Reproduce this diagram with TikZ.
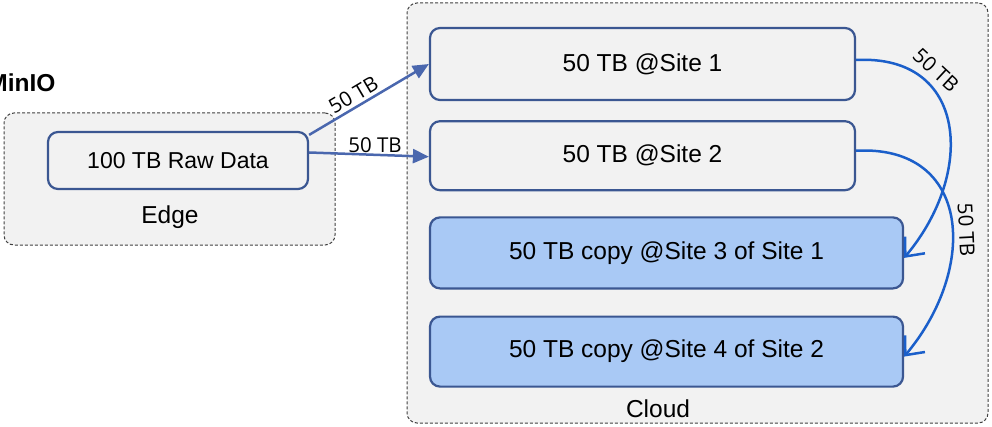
\documentclass[tikz,border=0pt]{standalone}
\usepackage{fontspec}
\setmainfont{Liberation Sans}
\newfontfamily\tbfont{Open Sans}
\usetikzlibrary{arrows.meta, positioning, shapes}
\definecolor{boxline}{HTML}{3B5792}
\definecolor{boxgray}{HTML}{F2F2F2}
\definecolor{copyblue}{HTML}{A9C9F5}
\definecolor{sendblue}{HTML}{4A67AE}
\definecolor{copyline}{HTML}{1B5FCA}
\tikzset{
      zone/.style={
        draw=black!75,
        fill=boxgray,
        line width=1pt,
        dash pattern=on 3pt off 2pt,
        rounded corners=10pt,
      },
      data box/.style={
        draw=boxline,
        fill=#1,
        line width=2.2pt,
        rounded corners=10pt,
        font=\fontsize{24.5}{28}\selectfont,
      },
      data box/.default=boxgray,
      send/.style={draw=sendblue, line width=2.5pt, -{Triangle[length=16pt,width=14pt]}}, % edge to cloud
      copy/.style={draw=copyline, line width=2.5pt, -{Straight Barb[length=15pt,width=26pt]}}, % site to site
      tb label/.style={font=\tbfont\fontsize{20.5}{24}\selectfont, text=black, inner sep=3pt},
      zone name/.style={font=\fontsize{24.5}{28}\selectfont, anchor=base},
}
\begin{document}
\begin{tikzpicture}[x=1pt, y=1pt]
    \useasboundingbox (0,0) rectangle (992,426);
    % zones
    \node [zone, minimum width=331pt, minimum height=132pt] (edge) at (169.5,247) {};
    \node [zone, minimum width=581pt, minimum height=420pt] (cloud) at (697.5,213) {};
    \node [zone name] (edgename) at (170,202) {Edge};
    \node [zone name] (cloudname) at (658,9) {Cloud};
    \node [font=\bfseries\fontsize{24.5}{28}\selectfont, anchor=base east] (minio) at (59,334) {MinIO};
    % data
    \node [data box, minimum width=260pt, minimum height=57pt, font=\fontsize{23}{26}\selectfont] (raw) at (178,265.5) {100 TB Raw Data};
    \node [data box, minimum width=425pt, minimum height=72pt] (site1) at (642.5,362) {50 TB @Site 1};
    \node [data box, minimum width=425pt, minimum height=69pt, below=19pt of site1] (site2) {50 TB @Site 2};
    \node [data box=copyblue, minimum width=473pt, minimum height=71pt, below=25pt of site2.south west, anchor=north west] (site3) {50 TB copy @Site 3 of Site 1};
    \node [data box=copyblue, minimum width=473pt, minimum height=70pt, below=26pt of site3] (site4) {50 TB copy @Site 4 of Site 2};
    % transfers
    \draw [send] ([yshift=-4pt]raw.north east) -- node [tb label, sloped, above, pos=0.42] {50 TB} (site1.west);
    \draw [send] ([yshift=8pt]raw.east) -- node [tb label, above, pos=0.55, inner sep=1pt] {50 TB} ([yshift=-1pt]site2.west);
    \draw [copy] ([yshift=4pt]site1.east) to [out=3, in=50, looseness=1.4] node [tb label, sloped, above, pos=0.28, inner sep=6pt] {50 TB} ([yshift=-5pt]site3.east);
    \draw [copy] ([yshift=5pt]site2.east) to [out=3, in=50, looseness=1.4] node [tb label, sloped, above, pos=0.55, inner sep=5pt] {50 TB} ([yshift=-5pt]site4.east);
\end{tikzpicture}
\end{document}
